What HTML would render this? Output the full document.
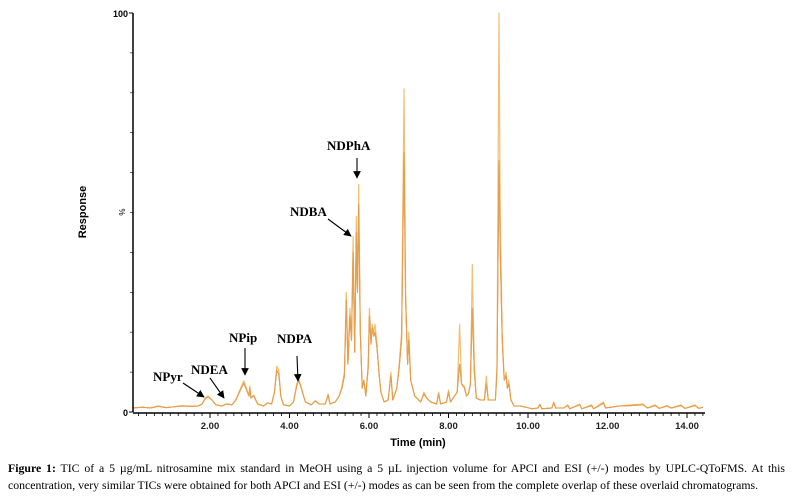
<!DOCTYPE html>
<html><head><meta charset="utf-8"><style>
body{margin:0;width:792px;height:500px;background:#fff;overflow:hidden;position:relative;font-family:"Liberation Serif",serif}
#cap{position:absolute;left:8px;top:460px;width:777px;font-size:11.8px;line-height:17px;color:#000}
#cap .l1{text-align:justify;text-align-last:justify;white-space:nowrap}
</style></head><body>
<svg id="chart" width="792" height="455" style="position:absolute;left:0;top:0"></svg>
<div id="cap"><div class="l1"><b>Figure 1:</b> TIC of a 5 µg/mL nitrosamine mix standard in MeOH using a 5 µL injection volume for APCI and ESI (+/-) modes by UPLC-QToFMS. At this</div><div>concentration, very similar TICs were obtained for both APCI and ESI (+/-) modes as can be seen from the complete overlap of these overlaid chromatograms.</div></div>
<script>
const times=[0.06,0.3,0.5,0.7,0.9,1.1,1.3,1.5,1.7,1.8,1.88,1.95,2.05,2.15,2.3,2.4,2.55,2.65,2.75,2.85,2.93,2.98,3.0,3.03,3.1,3.2,3.35,3.45,3.55,3.62,3.68,3.73,3.78,3.85,4.0,4.1,4.18,4.23,4.3,4.4,4.55,4.65,4.75,4.9,4.97,5.02,5.15,5.25,5.32,5.38,5.43,5.47,5.52,5.56,5.6,5.64,5.68,5.71,5.74,5.78,5.83,5.87,5.92,5.98,6.01,6.05,6.08,6.12,6.15,6.2,6.25,6.3,6.38,6.48,6.55,6.6,6.7,6.76,6.82,6.88,6.92,6.97,7.0,7.05,7.15,7.3,7.38,7.45,7.55,7.7,7.75,7.8,7.95,8.0,8.05,8.15,8.22,8.28,8.33,8.4,8.45,8.5,8.55,8.6,8.65,8.7,8.8,8.9,8.95,9.0,9.1,9.18,9.22,9.27,9.3,9.35,9.4,9.45,9.48,9.52,9.57,9.65,9.8,9.95,10.1,10.25,10.3,10.35,10.6,10.65,10.7,10.9,11.0,11.05,11.3,11.35,11.6,11.65,11.9,11.95,12.3,12.6,12.9,13.0,13.2,13.3,13.5,13.6,13.85,13.95,14.2,14.3,14.4];
const lightValues=[1.0,1.2,1.0,1.5,1.1,1.3,1.6,1.4,1.5,2.0,3.5,4.0,3.0,1.8,1.5,2.0,1.8,3.0,5.5,7.8,5.5,4.0,6.5,3.5,4.2,2.0,1.5,2.3,2.0,5.0,11.5,10.5,4.0,1.8,1.5,2.5,7.0,8.5,6.0,2.5,1.8,2.8,2.0,2.0,4.5,2.0,2.5,4.0,6.5,10,30,12,26,18,44,15,49,30,57,20,6,8,4,12,26,18,22,20,22,17,10,5,2.5,3,10,3,6,12,20,81,30,12,20,8,4,2.5,5,3.5,2.5,2.0,5.0,2.0,2.5,5.5,2.5,4,5,22,7,6.5,4,4.5,7,37,12,3.5,3,3,9,3,3,3,12,100,50,20,8,10,6,8,3,1.5,1.5,1.2,0.8,1.0,2.0,0.8,1.0,2.5,1.0,1.0,1.8,0.8,2.0,0.8,1.8,0.8,2.5,1.0,1.5,1.8,2.0,1.0,1.8,0.9,1.6,1.0,1.8,0.9,1.8,0.9,1.2];
const darkValues=[1.0,1.2,1.0,1.4,1.1,1.3,1.5,1.4,1.5,2.0,3.3,3.8,3.0,1.8,1.5,2.0,1.8,3.0,5.2,7.2,5.2,4.0,6.0,3.5,4.0,2.0,1.5,2.3,2.0,4.8,10.5,9.5,4.0,1.8,1.5,2.5,6.5,8.0,5.8,2.5,1.8,2.8,2.0,2.0,4.2,2.0,2.5,4.0,6.0,9,28,12,24,18,40,15,45,30,52,20,6,8,4,11,24,17,21,19,20,16,10,5,2.5,3,9,3,6,11,18,65,28,12,18,8,4,2.5,4.5,3.5,2.5,2.0,4.5,2.0,2.5,5.0,2.5,4,5,12,7,6,4,4.5,7,26,10,3.5,3,3,7,3,3,3,10,63,40,18,8,9,6,7,3,1.5,1.5,1.2,0.8,1.0,1.8,0.8,1.0,2.2,1.0,1.0,1.6,0.8,1.8,0.8,1.6,0.8,2.2,1.0,1.5,1.6,1.8,1.0,1.6,0.9,1.5,1.0,1.6,0.9,1.6,0.9,1.2];
const xTicks=[2,4,6,8,10,12,14];
const xTickLabels=["2.00","4.00","6.00","8.00","10.00","12.00","14.00"];
const annotations=[
 {name:"NPyr",tx:153,ty:381,x1:183,y1:383,x2:204,y2:397},
 {name:"NDEA",tx:191,ty:374,x1:210,y1:378,x2:224,y2:398},
 {name:"NPip",tx:229,ty:342,x1:245,y1:348,x2:245,y2:375},
 {name:"NDPA",tx:277,ty:343,x1:297,y1:356,x2:298,y2:381},
 {name:"NDBA",tx:290,ty:216,x1:328,y1:219,x2:351,y2:236},
 {name:"NDPhA",tx:327,ty:150,x1:357,y1:158,x2:357,y2:178}
];
const NS="http://www.w3.org/2000/svg";
const svg=document.getElementById("chart");
const X0=133,X1=705,Y0=412,Y1=13;
function xs(t){return 130.5+t*39.75;}
function ys(v){return Y0-(v/100)*(Y0-Y1);}
function mk(tag,attrs,parent){const e=document.createElementNS(NS,tag);for(const k in attrs)e.setAttribute(k,attrs[k]);(parent||svg).appendChild(e);return e;}
const defs=mk("defs",{});
const mar=mk("marker",{id:"ah",viewBox:"0 0 10 10",refX:"9",refY:"5",markerWidth:"7",markerHeight:"7",orient:"auto-start-reverse"},defs);
mk("path",{d:"M0,0 L10,5 L0,10 z",fill:"#000"},mar);
function line(vals,color,name,w){
 let d="";for(let i=0;i<times.length;i++){d+=(i?"L":"M")+xs(times[i]).toFixed(1)+","+ys(vals[i]).toFixed(1);}
 const p=mk("path",{d:d,fill:"none",stroke:color,"stroke-width":w,"stroke-linejoin":"round"});
 
 
}
line(lightValues,"#f0c074","series-light",1.2);
line(darkValues,"#e8842a","series-dark",1);
line(lightValues.map((v,i)=>Math.min(v,darkValues[i])),"#e4a050","series-overlap",1);
const ya=mk("line",{x1:X0,y1:Y1,x2:X0,y2:Y0,stroke:"#000","stroke-width":1.5});


const xa=mk("line",{x1:X0,y1:Y0+1,x2:X1,y2:Y0+1,stroke:"#000","stroke-width":1.5});


for(let t=0.2;t<=14.4;t+=0.2){const x=xs(t);if(x<X0)continue;mk("line",{x1:x,y1:Y0+1,x2:x,y2:Y0+4,stroke:"#000","stroke-width":0.8});}
for(let i=0;i<xTicks.length;i++){
 const x=xs(xTicks[i]);
 mk("line",{x1:x,y1:Y0+1,x2:x,y2:Y0+6,stroke:"#000","stroke-width":1});
 const t=mk("text",{x:x,y:Y0+17,"text-anchor":"middle","font-family":"Liberation Sans, sans-serif","font-size":"9.5","font-weight":"bold",fill:"#222"});
 t.textContent=xTickLabels[i];
 
 
}
for(let i=1;i<10;i++){mk("line",{x1:X0-3,y1:ys(i*10),x2:X0,y2:ys(i*10),stroke:"#000","stroke-width":0.6});}
mk("line",{x1:X0-4,y1:Y1,x2:X0,y2:Y1,stroke:"#000"});mk("line",{x1:X0-4,y1:Y0,x2:X0,y2:Y0,stroke:"#000"});
const t100=mk("text",{x:X0-5,y:Y1+4,"text-anchor":"end","font-family":"Liberation Sans, sans-serif","font-size":"9","font-weight":"bold"});t100.textContent="100";


const t0=mk("text",{x:X0-5,y:Y0+4,"text-anchor":"end","font-family":"Liberation Sans, sans-serif","font-size":"9","font-weight":"bold"});t0.textContent="0";


const pc=mk("text",{x:125,y:212,"text-anchor":"middle","font-family":"Liberation Sans, sans-serif","font-size":"8",transform:"rotate(-90 125 212)"});pc.textContent="%";


const yt=mk("text",{x:86,y:212,"text-anchor":"middle","font-family":"Liberation Sans, sans-serif","font-size":"11","font-weight":"bold",transform:"rotate(-90 86 212)"});yt.textContent="Response";


const xt=mk("text",{x:418,y:446,"text-anchor":"middle","font-family":"Liberation Sans, sans-serif","font-size":"11","font-weight":"bold"});xt.textContent="Time (min)";


for(const a of annotations){
 const t=mk("text",{x:a.tx,y:a.ty,"font-family":"Liberation Serif, serif","font-size":"13","font-weight":"bold"});
 t.textContent=a.name;
 
 
 const l=mk("line",{x1:a.x1,y1:a.y1,x2:a.x2,y2:a.y2,stroke:"#000","stroke-width":1.1,"marker-end":"url(#ah)"});
 
 
}
</script>
</body></html>
